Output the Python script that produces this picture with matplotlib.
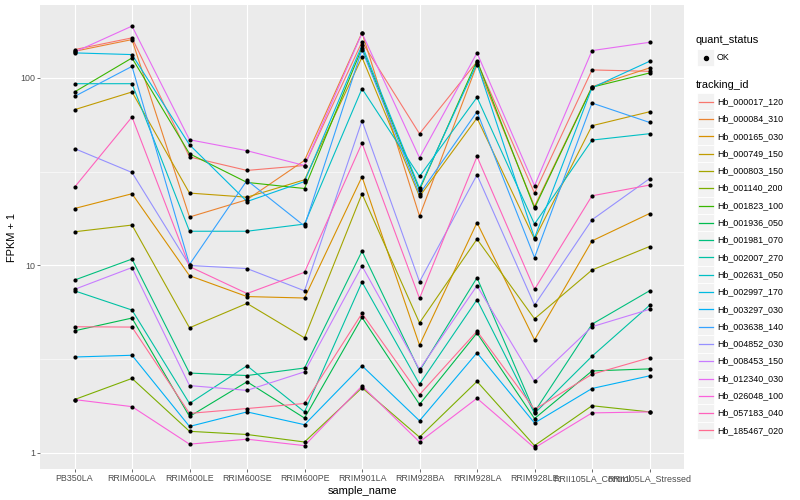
import matplotlib
matplotlib.use("Agg")
import matplotlib.pyplot as plt
from matplotlib.patches import Rectangle
from matplotlib.lines import Line2D
import numpy as np

plt.rcParams['font.family'] = ['Liberation Sans', 'DejaVu Sans']

# ---------------- data ----------------
samples = ["PB350LA", "RRIM600LA", "RRIM600LE", "RRIM600SE", "RRIM600PE",
           "RRIM901LA", "RRIM928BA", "RRIM928LA", "RRIM928LE",
           "RRII105LA_Control", "RRII105LA_Stressed"]

tracking_ids = ["Hb_000017_120", "Hb_000084_310", "Hb_000165_030", "Hb_000749_150",
                "Hb_000803_150", "Hb_001140_200", "Hb_001823_100", "Hb_001936_050",
                "Hb_001981_070", "Hb_002007_270", "Hb_002631_050", "Hb_002997_170",
                "Hb_003297_030", "Hb_003638_140", "Hb_004852_030", "Hb_008453_150",
                "Hb_012340_030", "Hb_026048_100", "Hb_057183_040", "Hb_185467_020"]

# ggplot2 default hue palette for 20 levels
line_colors = ["#F8766D", "#EA8331", "#D89000", "#C09B00", "#A3A500", "#7CAE00",
               "#39B600", "#00BB4E", "#00BF7D", "#00C1A3", "#00BFC4", "#00BAE0",
               "#00B0F6", "#35A2FF", "#9590FF", "#C77CFF", "#E76BF3", "#FA62DB",
               "#FF62BC", "#FF6C91"]

# FPKM + 1 per sample (same order as samples)
hb_000017_120 = [141.7, 163.7, 37.9, 32.1, 34.1, 155.8, 50.4, 122.3, 24.3, 110.4, 108.5]
hb_000084_310 = [138.8, 160.3, 18.1, 22.4, 36.3, 174.7, 18.3, 117.8, 20.6, 89.8, 113.1]
hb_000165_030 = [20.1, 24.1, 8.80, 6.81, 6.69, 29.7, 3.75, 16.9, 4.00, 13.5, 18.9]
hb_000749_150 = [67.7, 84.2, 24.3, 23.1, 28.6, 128.9, 23.3, 61.1, 13.8, 55.6, 66.0]
hb_000803_150 = [15.1, 16.4, 4.64, 6.26, 4.10, 24.1, 4.93, 13.8, 5.18, 9.44, 12.6]
hb_001140_200 = [1.92, 2.49, 1.30, 1.25, 1.14, 2.22, 1.21, 2.40, 1.09, 1.78, 1.65]
hb_001823_100 = [84.2, 127.9, 39.4, 27.7, 25.7, 144.7, 25.3, 123.8, 20.2, 89.3, 106.3]
hb_001936_050 = [4.47, 5.23, 1.56, 2.39, 1.53, 5.27, 1.81, 4.35, 1.52, 2.73, 2.80]
hb_001981_070 = [8.34, 10.8, 2.66, 2.58, 2.83, 11.9, 2.73, 8.58, 1.65, 4.85, 7.31]
hb_002007_270 = [7.31, 5.77, 1.83, 2.91, 1.65, 8.14, 2.32, 6.55, 1.62, 3.27, 6.11]
hb_002631_050 = [93.2, 93.2, 15.2, 15.2, 16.6, 87.7, 29.8, 78.8, 16.6, 46.6, 50.4]
hb_002997_170 = [136.1, 133.3, 44.0, 21.9, 28.0, 149.4, 25.8, 119.3, 14.0, 88.7, 122.7]
hb_003297_030 = [3.24, 3.31, 1.38, 1.65, 1.41, 2.91, 1.48, 3.41, 1.44, 2.20, 2.57]
hb_003638_140 = [79.7, 115.3, 10.1, 28.4, 16.2, 141.7, 24.0, 66.0, 11.0, 73.5, 57.9]
hb_004852_030 = [42.0, 31.3, 9.98, 9.61, 7.31, 59.1, 8.17, 30.4, 6.13, 17.5, 29.0]
hb_008453_150 = [7.44, 9.73, 2.28, 2.15, 2.70, 9.91, 2.78, 7.78, 2.40, 4.70, 5.82]
hb_012340_030 = [137.4, 189.2, 46.8, 40.9, 34.1, 173.6, 37.5, 136.1, 26.6, 140.0, 155.0]
hb_026048_100 = [1.92, 1.76, 1.11, 1.18, 1.09, 2.27, 1.14, 1.95, 1.06, 1.63, 1.65]
hb_057183_040 = [26.1, 61.9, 9.85, 7.07, 9.18, 44.9, 6.66, 38.1, 7.44, 23.5, 26.8]
hb_185467_020 = [4.70, 4.68, 1.62, 1.72, 1.83, 5.54, 2.04, 4.45, 1.70, 2.62, 3.21]

series_values = [hb_000017_120, hb_000084_310, hb_000165_030, hb_000749_150,
                 hb_000803_150, hb_001140_200, hb_001823_100, hb_001936_050,
                 hb_001981_070, hb_002007_270, hb_002631_050, hb_002997_170,
                 hb_003297_030, hb_003638_140, hb_004852_030, hb_008453_150,
                 hb_012340_030, hb_026048_100, hb_057183_040, hb_185467_020]

quant_levels = ["OK"]
y_ticks = [1, 10, 100]
y_tick_labels = ["1", "10", "100"]

# ---------------- figure ----------------
W, H = 800, 500
fig = plt.figure(figsize=(W / 100, H / 100), dpi=100)
fig.patch.set_facecolor("white")

def fx(px):
    return px / W

def fy(py):
    return 1 - py / H

pl, pr, pt, pb = 40, 684, 5, 469
ax = fig.add_axes([fx(pl), fy(pb), (pr - pl) / W, (pb - pt) / H])
ax.set_facecolor("#EBEBEB")
for s in ax.spines.values():
    s.set_visible(False)

xpos = np.arange(len(samples))
ax.set_yscale("log")

for vals, col in zip(series_values, line_colors):
    ax.plot(xpos, vals, color=col, lw=0.8, zorder=3, solid_capstyle="butt")
for vals in series_values:
    ax.scatter(xpos, vals, s=9, color="black", zorder=4, linewidths=0)

allv = np.concatenate([np.asarray(v) for v in series_values])
lo, hi = np.log10(allv.min()), np.log10(allv.max())
span = hi - lo
ax.set_ylim(10 ** (lo - 0.05 * span), 10 ** (hi + 0.05 * span))
ax.set_xlim(-0.6, len(samples) - 1 + 0.6)

ax.set_yticks(y_ticks)
ax.set_yticklabels(y_tick_labels)
ax.yaxis.set_minor_locator(matplotlib.ticker.NullLocator())
ax.set_xticks(xpos)
ax.set_xticklabels(samples)

ax.tick_params(axis="both", which="major", length=2.0, width=0.5, color="#333333",
               labelsize=6.4, labelcolor="#4D4D4D", pad=1.6)

# grid
for xv in xpos:
    ax.axvline(xv, color="white", lw=0.8, zorder=1)
for yv in y_ticks:
    ax.axhline(yv, color="white", lw=0.8, zorder=1)
for yv in [10 ** 0.5, 10 ** 1.5]:
    ax.axhline(yv, color="white", lw=0.4, zorder=1)

fig.text(fx((pl + pr) / 2), fy(491), "sample_name", ha="center", va="center", fontsize=7.9)
fig.text(fx(12), fy((pt + pb) / 2), "FPKM + 1", ha="center", va="center",
         rotation=90, fontsize=7.9)

# ---------------- legends ----------------
key = 17.3
kx = 697
fig.text(fx(696), fy(40), "quant_status", ha="left", va="center", fontsize=7.9)
for i, q in enumerate(quant_levels):
    cy = 57.5 + i * key
    fig.add_artist(Rectangle((fx(kx), fy(cy + key / 2)), key / W, key / H,
                             transform=fig.transFigure, fc="#F2F2F2", ec="white", lw=0.6))
    fig.add_artist(Line2D([fx(kx + key / 2)], [fy(cy)], transform=fig.transFigure,
                          marker="o", markersize=2.9, color="black", lw=0))
    fig.text(fx(717), fy(cy), q, ha="left", va="center", fontsize=6.4)

fig.text(fx(696), fy(85), "tracking_id", ha="left", va="center", fontsize=7.9)
for i, (tid, col) in enumerate(zip(tracking_ids, line_colors)):
    cy = 101.7 + i * key
    fig.add_artist(Rectangle((fx(kx), fy(cy + key / 2)), key / W, key / H,
                             transform=fig.transFigure, fc="#F2F2F2", ec="white", lw=0.6))
    fig.add_artist(Line2D([fx(kx + 1.5), fx(kx + key - 1.5)], [fy(cy), fy(cy)],
                          transform=fig.transFigure, color=col, lw=0.9))
    fig.text(fx(717), fy(cy), tid, ha="left", va="center", fontsize=6.4)

fig.savefig("out.png", dpi=100)
